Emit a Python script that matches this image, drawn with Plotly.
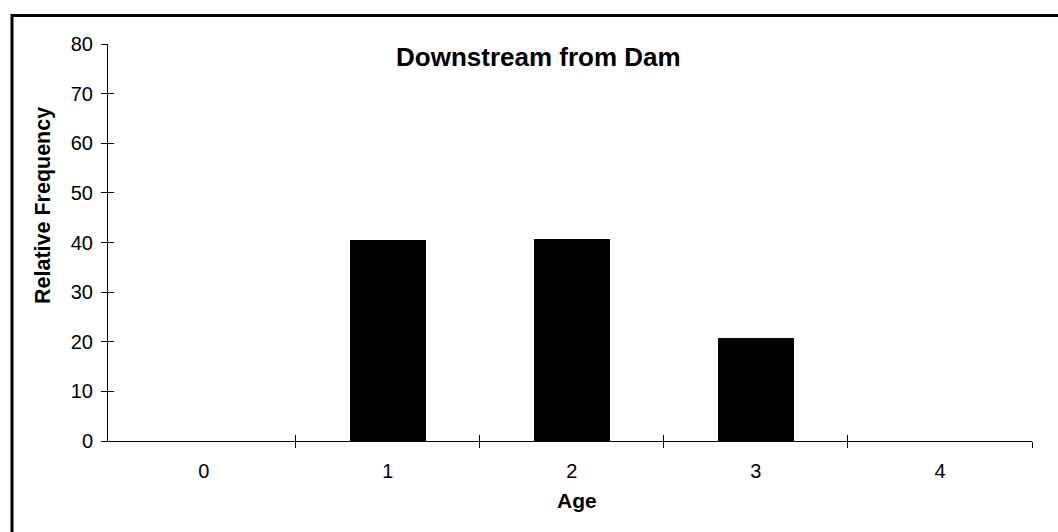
import plotly.graph_objects as go

# Age-class relative frequencies below the dam
ages = [0, 1, 2, 3, 4]
age_labels = ["0", "1", "2", "3", "4"]
rel_freq = [0, 40.5, 40.7, 20.8, 0]
y_ticks = [0, 10, 20, 30, 40, 50, 60, 70, 80]
class_bounds = [0.5, 1.5, 2.5, 3.5, 4.5]

FONT = "Liberation Sans, Arial, sans-serif"
W, H = 1058, 532
L, R, T, B = 108, 26, 44, 91
plot_w = W - L - R
plot_h = H - T - B


def px_x(px):
    return (px - L) / plot_w


def px_y(py):
    return (H - B - py) / plot_h


x_range = [-0.52, 4.5]

fig = go.Figure()
fig.add_trace(go.Bar(
    x=ages, y=rel_freq, width=0.41,
    marker=dict(color="black", line=dict(width=0)),
    showlegend=False, hoverinfo="skip",
))
# helper traces so the tick-only overlay axes are drawn
fig.add_trace(go.Scatter(x=[None], y=[None], xaxis="x2", yaxis="y",
                         showlegend=False, hoverinfo="skip"))
fig.add_trace(go.Scatter(x=[None], y=[None], xaxis="x3", yaxis="y2",
                         showlegend=False, hoverinfo="skip"))

axis_common = dict(showgrid=False, zeroline=False, tickwidth=1, tickcolor="black")

fig.update_layout(
    width=W, height=H,
    margin=dict(l=L, r=R, t=T, b=B),
    paper_bgcolor="white", plot_bgcolor="white",
    font=dict(family=FONT, color="black"),
    bargap=0,
    xaxis=dict(
        range=x_range, tickvals=ages, ticktext=age_labels, ticks="",
        showline=True, linecolor="black", linewidth=1.3,
        tickfont=dict(size=20, family=FONT), ticklabelstandoff=12,
        **axis_common,
    ),
    # crossing tick marks at the age-class boundaries
    xaxis2=dict(
        overlaying="x", anchor="y", range=x_range, tickvals=class_bounds,
        ticks="outside", ticklen=6, showticklabels=False, showline=False,
        **axis_common,
    ),
    xaxis3=dict(
        overlaying="x", anchor="y2", range=x_range, tickvals=class_bounds,
        ticks="inside", ticklen=6, showticklabels=False, showline=False,
        **axis_common,
    ),
    yaxis=dict(
        range=[0, 80], tickvals=y_ticks, ticks="outside", ticklen=6,
        showline=True, linecolor="black", linewidth=1,
        tickfont=dict(size=20, family=FONT), ticklabelstandoff=4,
        **axis_common,
    ),
    yaxis2=dict(
        overlaying="y", anchor="x", range=[0, 80], tickvals=y_ticks,
        ticks="inside", ticklen=6, showticklabels=False, showline=False,
        **axis_common,
    ),
    annotations=[
        dict(text="Downstream from Dam", xref="paper", yref="paper",
             x=px_x(538), y=px_y(57), xanchor="center", yanchor="middle",
             showarrow=False, font=dict(size=26, family=FONT, weight="bold")),
        dict(text="Relative Frequency", xref="paper", yref="paper",
             x=px_x(43), y=px_y(206), xanchor="center", yanchor="middle",
             textangle=-90, showarrow=False,
             font=dict(size=21.5, family=FONT, weight="bold")),
        dict(text="Age", xref="paper", yref="paper",
             x=px_x(577), y=px_y(500), xanchor="center", yanchor="middle",
             showarrow=False, font=dict(size=21, family=FONT, weight="bold")),
    ],
    shapes=[
        dict(type="rect", xref="paper", yref="paper",
             x0=px_x(12), x1=px_x(1064), y0=px_y(540), y1=px_y(15.5),
             line=dict(color="black", width=3), fillcolor="rgba(0,0,0,0)",
             layer="above"),
    ],
)

fig.write_html("out.html")
